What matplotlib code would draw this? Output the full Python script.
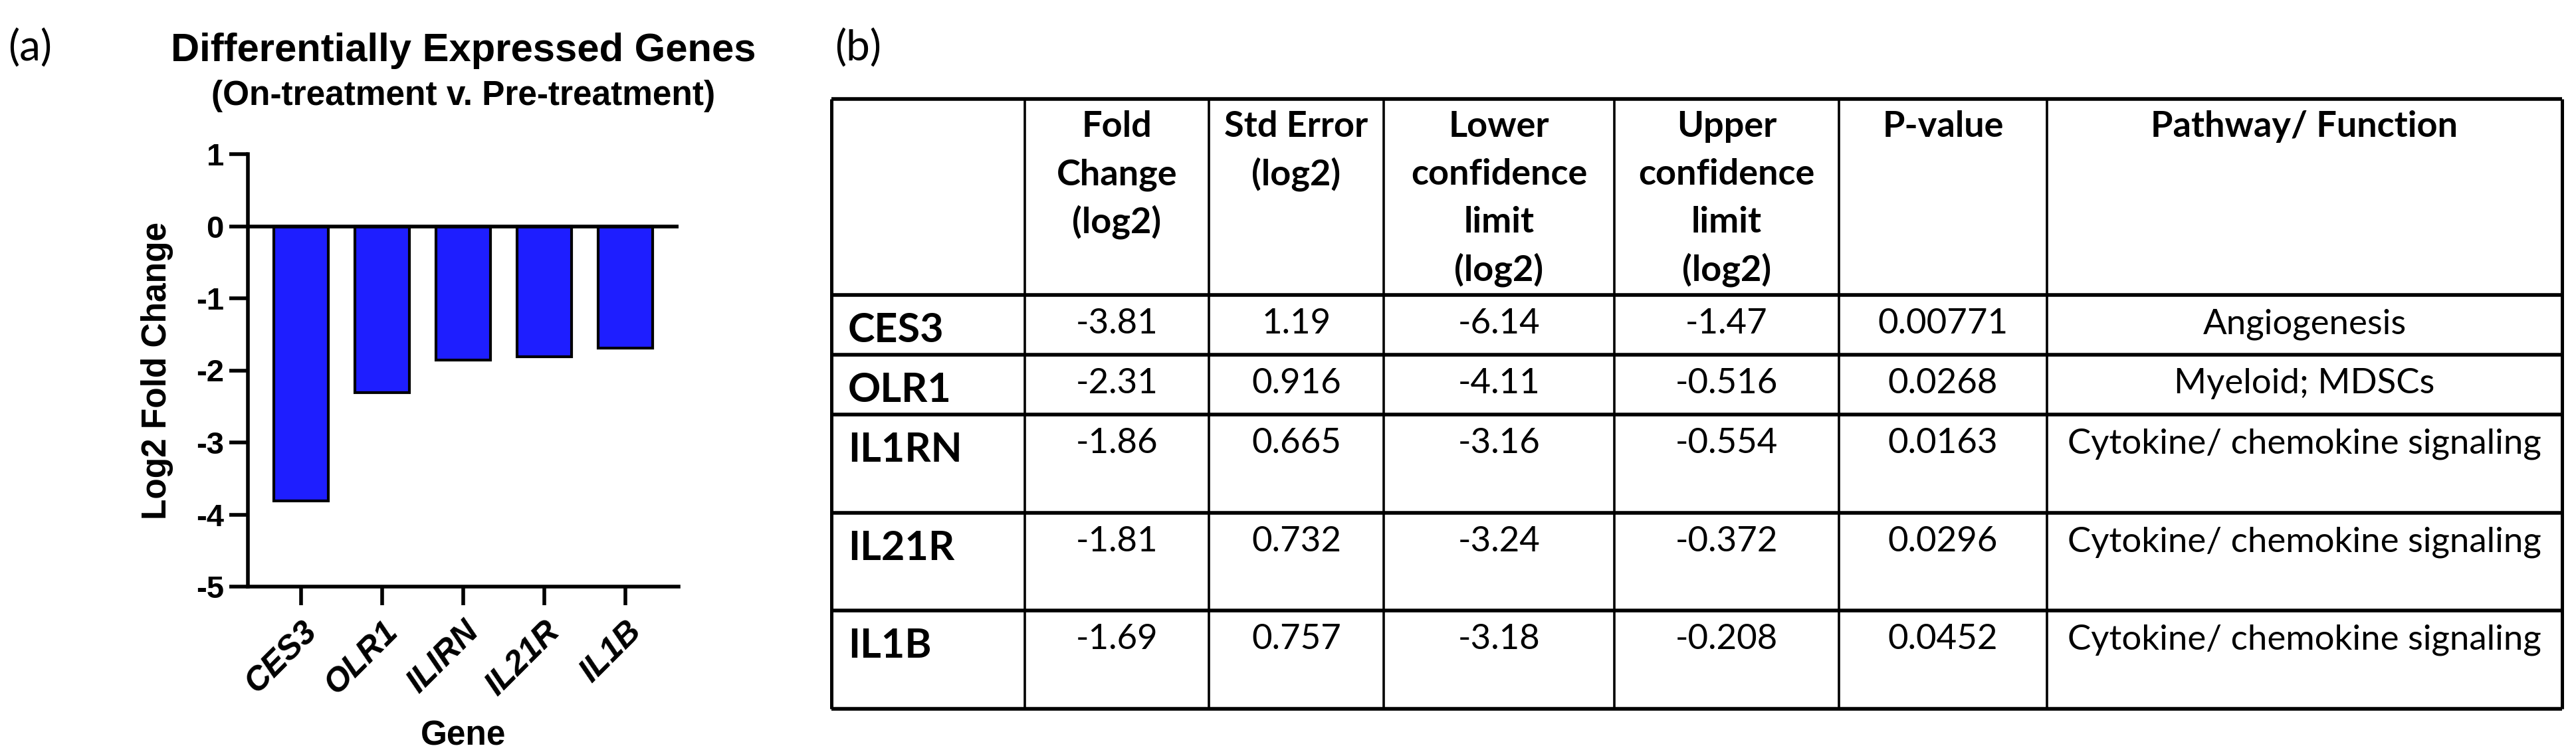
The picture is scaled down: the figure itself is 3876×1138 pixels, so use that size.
import matplotlib
matplotlib.use("Agg")
import matplotlib.pyplot as plt

plt.rcParams["axes.unicode_minus"] = False

# data
genes = ["CES3", "OLR1", "IL1RN", "IL21R", "IL1B"]
bar_labels = ["CES3", "OLR1", "ILIRN", "IL21R", "IL1B"]
fold_change = [-3.81, -2.31, -1.86, -1.81, -1.69]
std_error = [1.19, 0.916, 0.665, 0.732, 0.757]
lower_cl = [-6.14, -4.11, -3.16, -3.24, -3.18]
upper_cl = [-1.47, -0.516, -0.554, -0.372, -0.208]
p_value = [0.00771, 0.0268, 0.0163, 0.0296, 0.0452]
pathway = ["Angiogenesis", "Myeloid; MDSCs", "Cytokine/ chemokine signaling",
           "Cytokine/ chemokine signaling", "Cytokine/ chemokine signaling"]
headers = [[], ["Fold", "Change", "(log2)"], ["Std Error", "(log2)"],
           ["Lower", "confidence", "limit", "(log2)"],
           ["Upper", "confidence", "limit", "(log2)"],
           ["P-value"], ["Pathway/ Function"]]

W, H, DPI = 3876, 1138, 200
fig = plt.figure(figsize=(W / DPI, H / DPI), dpi=DPI)

# background axes in pixel coords for table and panel letters
bg = fig.add_axes([0, 0, 1, 1])
bg.set_xlim(0, W)
bg.set_ylim(H, 0)
bg.axis("off")

cal = ["Lato", "DejaVu Sans"]
bg.text(12, 92, "(a)", fontsize=23, family=cal, va="baseline")
bg.text(1256, 92, "(b)", fontsize=23, family=cal, va="baseline")

# ---- (a) bar chart
arial = "Liberation Sans"
ax = fig.add_axes([373 / W, 1 - 883 / H, (1021 - 373) / W, (883 - 232) / H])
xs = list(range(len(fold_change)))
ax.bar(xs, fold_change, width=0.67, color="#1e1eff", edgecolor="black",
       linewidth=1.5, zorder=2)
ax.axhline(0, color="black", lw=2.0, zorder=3)
ax.set_xlim(-0.656, 4.656)
ax.set_ylim(-5, 1)
ax.set_yticks(range(-5, 2))
ax.set_xticks(xs)
ax.set_xticklabels(bar_labels, rotation=45, ha="right", rotation_mode="anchor",
                   fontsize=18, fontweight="bold", style="italic", family=arial)
for t in ax.get_yticklabels():
    t.set_fontsize(17)
    t.set_fontweight("bold")
    t.set_family(arial)
ax.tick_params(axis="both", width=2.0, length=10, direction="out", pad=3)
ax.tick_params(axis="x", pad=6)
for s in ["top", "right"]:
    ax.spines[s].set_visible(False)
for s in ["left", "bottom"]:
    ax.spines[s].set_linewidth(2.0)
ax.set_ylabel("Log2 Fold Change", fontsize=18.5, fontweight="bold", family=arial, labelpad=12)
ax.set_xlabel("Gene", fontsize=18.5, fontweight="bold", family=arial, labelpad=10)
bg.text(697, 92, "Differentially Expressed Genes", fontsize=21.5, fontweight="bold",
        family=arial, ha="center", va="baseline")
bg.text(697, 158, "(On-treatment v. Pre-treatment)", fontsize=18.5, fontweight="bold",
        family=arial, ha="center", va="baseline")

# ---- (b) table
rows = [149, 444, 534, 624, 772, 919, 1067]
cols = [1251, 1542, 1819, 2082, 2429, 2767, 3080, 3855]
bg.hlines(rows, cols[0], cols[-1], color="black", lw=2.0)
bg.vlines(cols[1:-1], rows[0], rows[-1], color="black", lw=1.3)
bg.vlines([cols[0], cols[-1]], rows[0], rows[-1], color="black", lw=1.8)

for j, lines in enumerate(headers):
    cx = (cols[j] + cols[j + 1]) / 2
    for k, ln in enumerate(lines):
        bg.text(cx, 206 + 72 * k, ln, fontsize=19.5, fontweight="bold", family=cal,
                ha="center", va="baseline")

for i, g in enumerate(genes):
    top = rows[i + 1]
    bg.text(cols[0] + 25, top + 71, g, fontsize=22, fontweight="bold", family=cal,
            ha="left", va="baseline")
    vals = [fold_change[i], std_error[i], lower_cl[i], upper_cl[i], p_value[i]]
    for j, v in enumerate(vals):
        cx = (cols[j + 1] + cols[j + 2]) / 2
        bg.text(cx, top + 58, "{:.3g}".format(v), fontsize=19, family=cal,
                ha="center", va="baseline")
    cx = (cols[6] + cols[7]) / 2
    bg.text(cx, top + 58, pathway[i], fontsize=19, family=cal, ha="center", va="baseline")

fig.savefig("out.png", dpi=DPI)
